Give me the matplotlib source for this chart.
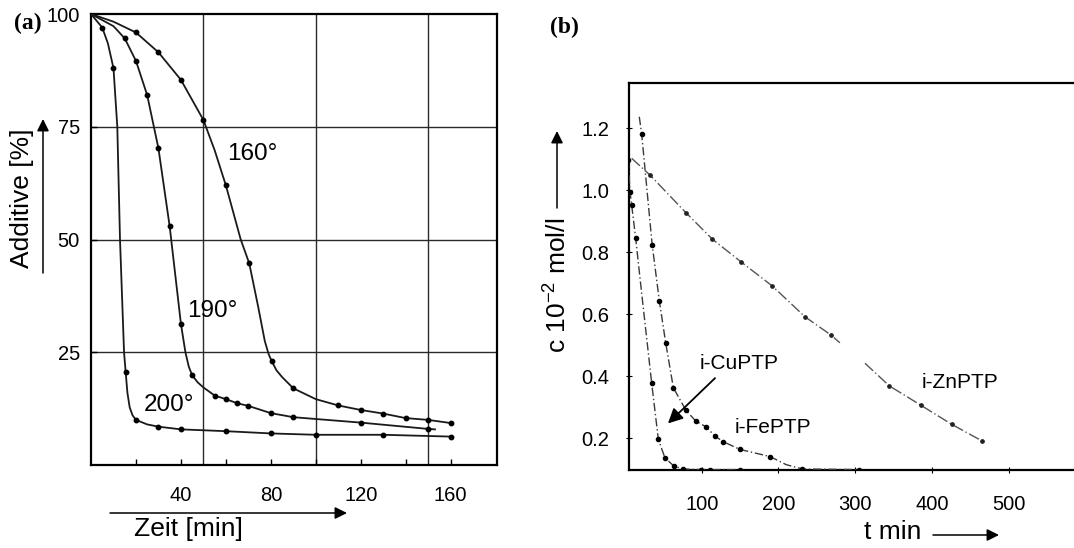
import matplotlib
matplotlib.use("Agg")
import matplotlib.pyplot as plt
from matplotlib.ticker import FixedLocator

plt.rcParams['font.family'] = ['Liberation Sans', 'DejaVu Sans']
plt.rcParams['mathtext.fontset'] = 'custom'
plt.rcParams['mathtext.rm'] = 'Liberation Sans'
plt.rcParams['mathtext.it'] = 'Liberation Sans:italic'
plt.rcParams['mathtext.bf'] = 'Liberation Sans:bold'

# ---------------- Panel (a) data: Additive [%] vs Zeit [min] ----------------
a_xticks = [40, 80, 120, 160]
a_yticks = [25, 50, 75, 100]
a_xgrid = [50, 100, 150]

# 200 deg
t200_line = [0, 5, 7.5, 10, 11.7, 12.9, 14.7, 15.4, 16.2, 17.2, 18.5, 20, 25, 30, 40, 60, 80, 100, 130, 160]
y200_line = [100, 97, 93.5, 88, 75, 50, 25, 20.7, 16.0, 12.8, 11.0, 10, 9.0, 8.5, 7.9, 7.5, 7.0, 6.7, 6.7, 6.3]
t200_pts = [5, 10, 15.4, 20, 30, 40, 60, 80, 100, 130, 160]
y200_pts = [97, 88, 20.7, 10, 8.5, 7.9, 7.5, 7.0, 6.7, 6.7, 6.3]

# 190 deg
t190_line = [0, 10, 15, 20, 25, 30, 35, 40, 42, 43.5, 45, 47.5, 50, 55, 60, 65, 70, 80, 90, 120, 150, 153]
y190_line = [100, 97.3, 94.6, 89.6, 82, 70.2, 52.9, 31.3, 25, 21.8, 19.9, 18.3, 17.2, 15.4, 14.6, 13.7, 13.1, 11.5, 10.6, 9.4, 8.0, 7.9]
t190_pts = [15, 20, 25, 30, 35, 40, 45, 55, 60, 65, 70, 80, 90, 120, 150]
y190_pts = [94.6, 89.6, 82, 70.2, 52.9, 31.3, 19.9, 15.4, 14.6, 13.7, 13.1, 11.5, 10.6, 9.4, 8.0]

# 160 deg
t160_line = [0, 10, 20, 30, 40, 50, 55, 60, 66.6, 70.4, 74.4, 77.3, 79.0, 80.4, 82.5, 85, 90, 100, 110, 120, 130, 140, 150, 160]
y160_line = [100, 98.3, 95.9, 91.5, 85.4, 76.5, 69.8, 62, 50, 44.7, 35, 27.5, 24.6, 23, 21.0, 19.5, 17, 14.6, 13.2, 12.2, 11.4, 10.4, 10.0, 9.3]
t160_pts = [20, 30, 40, 50, 60, 70.4, 80.4, 90, 110, 120, 130, 140, 150, 160]
y160_pts = [95.9, 91.5, 85.4, 76.5, 62, 44.7, 23, 17, 13.2, 12.2, 11.4, 10.4, 10.0, 9.3]

a_labels = ["160°", "190°", "200°"]
a_label_pos = [(60.5, 69), (42.6, 34.2), (23.3, 13.3)]

# ---------------- Panel (b) data: c [10^-2 mol/l] vs t [min] ----------------
b_xticks = [100, 200, 300, 400, 500]
b_yticks = [0.2, 0.4, 0.6, 0.8, 1.0, 1.2]

cu_t = [4.3, 6.5, 8.7, 13.9, 21.7, 34.8, 43.4, 52, 63.4, 75, 99, 110.5, 149.6]
cu_c = [1.098, 0.995, 0.952, 0.845, 0.668, 0.377, 0.197, 0.137, 0.111, 0.101, 0.099, 0.099, 0.099]
cu_pts_t = [4.3, 6.5, 8.7, 13.9, 34.8, 43.4, 52, 63.4, 75, 99, 110.5, 149.6]
cu_pts_c = [1.098, 0.995, 0.952, 0.845, 0.377, 0.197, 0.137, 0.111, 0.101, 0.099, 0.099, 0.099]

fe_t = [18.6, 21.7, 35.4, 44.7, 53, 63, 79.2, 92, 105.5, 117.3, 128, 149.8, 189, 210, 231, 305]
fe_c = [1.237, 1.182, 0.824, 0.644, 0.508, 0.363, 0.291, 0.256, 0.237, 0.207, 0.189, 0.164, 0.141, 0.115, 0.101, 0.099]
fe_pts_t = [21.7, 35.4, 44.7, 53, 63, 79.2, 92, 105.5, 117.3, 128, 149.8, 189, 231, 305]
fe_pts_c = [1.182, 0.824, 0.644, 0.508, 0.363, 0.291, 0.256, 0.237, 0.207, 0.189, 0.164, 0.141, 0.101, 0.099]

zn_t = [8.7, 32.6, 79.2, 114, 150.7, 192, 234.5, 268.4, 280, 312.7, 344.4, 385.3, 425.7, 464.8]
zn_c = [1.103, 1.049, 0.928, 0.842, 0.770, 0.691, 0.592, 0.533, 0.508, 0.442, 0.369, 0.307, 0.245, 0.192]
zn_gap_after = 9  # line interrupted between the 9th and 10th trace point
zn_pts_t = [32.6, 79.2, 114, 150.7, 192, 234.5, 268.4, 344.4, 385.3, 425.7, 464.8]
zn_pts_c = [1.049, 0.928, 0.842, 0.770, 0.691, 0.592, 0.533, 0.369, 0.307, 0.245, 0.192]

b_labels = ["i-CuPTP", "i-FePTP", "i-ZnPTP"]
b_label_pos = [(97.7, 0.442), (143.3, 0.235), (387, 0.381)]

# ---------------- Figure ----------------
W, H = 1074, 548
fig = plt.figure(figsize=(W / 100, H / 100), dpi=100)
fig.patch.set_facecolor('white')


def fx(x):
    return x / W


def fy(y):
    return 1 - y / H


# ---- Panel (a)
axA = fig.add_axes([fx(91), fy(465), (497 - 91) / W, (465 - 14) / H])
axA.set_xlim(0, 180.6)
axA.set_ylim(0, 100)
for v in a_xgrid:
    axA.axvline(v, color='#2a2a2a', lw=1.0, zorder=1)
for v in a_yticks[:-1]:
    axA.axhline(v, color='#2a2a2a', lw=1.0, zorder=1)

lc = '#1a1a1a'
axA.plot(t200_line, y200_line, color=lc, lw=1.3, zorder=3)
axA.plot(t190_line, y190_line, color=lc, lw=1.3, zorder=3)
axA.plot(t160_line, y160_line, color=lc, lw=1.3, zorder=3)
for tx, ty in [(t200_pts, y200_pts), (t190_pts, y190_pts), (t160_pts, y160_pts)]:
    axA.plot(tx, ty, 'o', color='k', ms=3.2, zorder=4)

for lab, (x, y) in zip(a_labels, a_label_pos):
    axA.text(x, y, lab, fontsize=17.5, ha='left', va='center', zorder=5)

axA.xaxis.set_major_locator(FixedLocator(a_xticks))
axA.xaxis.set_minor_locator(FixedLocator([20, 60, 100, 140]))
axA.yaxis.set_major_locator(FixedLocator(a_yticks))
axA.set_xticklabels([str(v) for v in a_xticks])
axA.set_yticklabels([str(v) for v in a_yticks])
axA.tick_params(axis='x', which='both', direction='in', length=4, width=1, pad=15, labelsize=14.5)
axA.tick_params(axis='y', which='both', direction='in', length=4, width=1, pad=8, labelsize=14.5)
for s in axA.spines.values():
    s.set_linewidth(1.6)
    s.set_color('k')

fig.text(fx(28), fy(23), "(a)", fontsize=17, fontweight='bold',
         family=['Liberation Serif', 'DejaVu Serif'], ha='center', va='center')
fig.text(fx(22), fy(198), "Additive [%]", fontsize=19, rotation=90, ha='center', va='center')
fig.text(fx(188), fy(529), "Zeit [min]", fontsize=19, ha='center', va='center')
axA.annotate('', xy=(fx(43), fy(119)), xytext=(fx(43), fy(273)), xycoords='figure fraction',
             textcoords='figure fraction', annotation_clip=False,
             arrowprops=dict(arrowstyle='-|>', lw=1.1, color='k', mutation_scale=18,
                             shrinkA=0, shrinkB=0))
axA.annotate('', xy=(fx(347), fy(513)), xytext=(fx(110), fy(513)), xycoords='figure fraction',
             textcoords='figure fraction', annotation_clip=False,
             arrowprops=dict(arrowstyle='-|>', lw=1.1, color='k', mutation_scale=18,
                             shrinkA=0, shrinkB=0))

# ---- Panel (b)
axB = fig.add_axes([fx(629), fy(470), (1084.7 - 629) / W, (470 - 83) / H])
axB.set_xlim(5.2, 599)
axB.set_ylim(0.0977, 1.346)

ls = (0, (6, 2, 1, 2))
axB.plot(cu_t, cu_c, color='#3a3a3a', lw=1.0, ls=ls, zorder=3)
axB.plot(fe_t, fe_c, color='#3a3a3a', lw=1.0, ls=ls, zorder=3)
axB.plot(zn_t[:zn_gap_after], zn_c[:zn_gap_after], color='#555555', lw=1.0, ls=(0, (8, 2, 1, 2)), zorder=3)
axB.plot(zn_t[zn_gap_after:], zn_c[zn_gap_after:], color='#555555', lw=1.0, ls=(0, (8, 2, 1, 2)), zorder=3)
axB.plot(cu_pts_t, cu_pts_c, 'o', color='k', ms=3.0, zorder=4)
axB.plot(fe_pts_t, fe_pts_c, 'o', color='k', ms=3.0, zorder=4)
axB.plot(zn_pts_t, zn_pts_c, 'o', color='#222222', ms=2.4, zorder=4)

for lab, (x, y) in zip(b_labels, b_label_pos):
    axB.text(x, y, lab, fontsize=15, ha='left', va='center', zorder=5)
axB.annotate('', xy=(56, 0.248), xytext=(117.3, 0.394),
             arrowprops=dict(arrowstyle='-|>', lw=1.3, color='k', mutation_scale=22,
                             shrinkA=0, shrinkB=0))

axB.xaxis.set_major_locator(FixedLocator(b_xticks))
axB.yaxis.set_major_locator(FixedLocator(b_yticks))
axB.set_xticklabels([str(v) for v in b_xticks])
axB.set_yticklabels(["%.1f" % v for v in b_yticks])
axB.tick_params(axis='x', direction='inout', length=4, width=0.8, pad=16, labelsize=14.5)
axB.tick_params(axis='y', direction='inout', length=4, width=0.8, pad=12, labelsize=14.5)
axB.spines['right'].set_visible(False)
for k in ['left', 'top', 'bottom']:
    axB.spines[k].set_linewidth(1.6)
    axB.spines[k].set_color('k')

fig.text(fx(564), fy(27), "(b)", fontsize=17, fontweight='bold',
         family=['Liberation Serif', 'DejaVu Serif'], ha='center', va='center')
fig.text(fx(558), fy(285), r"c 10$^{-2}$ mol/l", fontsize=19, rotation=90, ha='center', va='center')
fig.text(fx(893), fy(532), "t min", fontsize=19, ha='center', va='center')
axB.annotate('', xy=(fx(557), fy(131)), xytext=(fx(557), fy(208)), xycoords='figure fraction',
             textcoords='figure fraction', annotation_clip=False,
             arrowprops=dict(arrowstyle='-|>', lw=1.1, color='k', mutation_scale=18,
                             shrinkA=0, shrinkB=0))
axB.annotate('', xy=(fx(999), fy(535)), xytext=(fx(933), fy(535)), xycoords='figure fraction',
             textcoords='figure fraction', annotation_clip=False,
             arrowprops=dict(arrowstyle='-|>', lw=1.1, color='k', mutation_scale=18,
                             shrinkA=0, shrinkB=0))

fig.savefig("out.png", dpi=100, facecolor='white')
